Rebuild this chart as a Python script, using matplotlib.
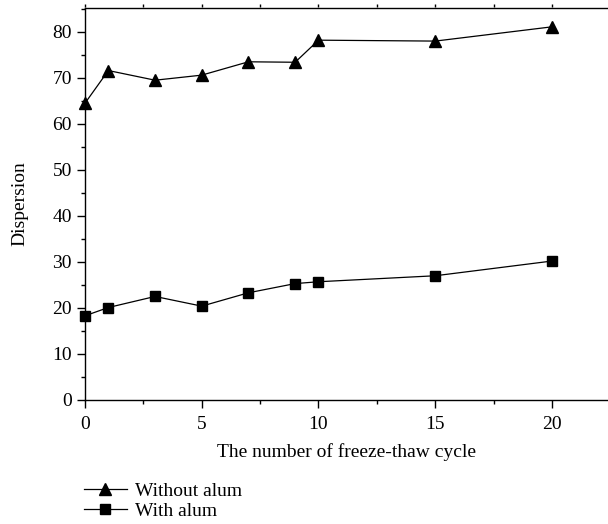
import numpy as np
import matplotlib
matplotlib.use('Agg')
import matplotlib.pyplot as plt
from matplotlib.ticker import MultipleLocator

# data
cycles = [0, 1, 3, 5, 7, 9, 10, 15, 20]
without_alum = [64.5, 71.6, 69.5, 70.6, 73.5, 73.4, 78.2, 78.0, 81.1]
with_alum = [18.3, 20.1, 22.5, 20.4, 23.3, 25.3, 25.7, 27.0, 30.2]

plt.rcParams['font.family'] = ['Liberation Serif', 'DejaVu Serif']
plt.rcParams['font.size'] = 14

fig = plt.figure(figsize=(6.08, 5.24), dpi=100)
ax = fig.add_axes([85 / 608, 1 - 400 / 524, 1 - 85 / 608, (400 - 7.5) / 524])

ax.plot(cycles, without_alum, color='black', lw=0.9, marker='^', ms=8.5,
        label='Without alum', clip_on=False, zorder=3)
ax.plot(cycles, with_alum, color='black', lw=0.9, marker='s', ms=7.2,
        label='With alum', clip_on=False, zorder=3)

ax.set_xlim(0, 22.4)
ax.set_ylim(0, 85.3)
ax.xaxis.set_major_locator(MultipleLocator(5))
ax.xaxis.set_minor_locator(MultipleLocator(2.5))
ax.yaxis.set_major_locator(MultipleLocator(10))
ax.yaxis.set_minor_locator(MultipleLocator(5))

ax.spines['right'].set_visible(False)
for s in ['left', 'bottom', 'top']:
    ax.spines[s].set_linewidth(1.0)

ax.tick_params(axis='both', which='major', direction='out', length=5.5, width=1.0, pad=4)
ax.tick_params(axis='both', which='minor', direction='out', length=3.2, width=1.0)
ax.tick_params(axis='x', which='major', pad=6)

# tiny ticks on the top spine
sec = ax.secondary_xaxis('top')
sec.xaxis.set_major_locator(MultipleLocator(2.5))
sec.tick_params(direction='out', length=2, width=1.0, labeltop=False)
sec.spines['top'].set_visible(False)

ax.set_xlabel('The number of freeze-thaw cycle', labelpad=7)
ax.set_ylabel('Dispersion', labelpad=17)

fig.legend(loc='upper left', bbox_to_anchor=(84 / 608, 1 - 482 / 524),
           frameon=False, borderpad=0, borderaxespad=0, handlelength=2.2,
           handletextpad=0.4, labelspacing=0.15, fontsize=14)

fig.savefig('out.png', dpi=100)
